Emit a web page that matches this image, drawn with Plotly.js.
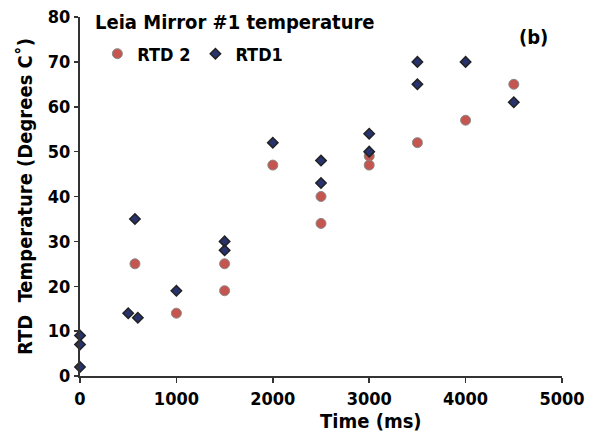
<!DOCTYPE html>
<html><head><meta charset="utf-8">
<script src="https://cdn.plot.ly/plotly-3.0.1.min.js"></script>
<style>body{margin:0;background:#fff}#c{width:597px;height:441px}</style>
</head><body><div id="c"></div>
<script>
const rtd2_x = [570, 1000, 1500, 1500, 2000, 2500, 2500, 3000, 3000, 3500, 4000, 4500];
const rtd2_y = [25, 14, 25, 19, 47, 40, 34, 49, 47, 52, 57, 65];
const rtd1_x = [0, 0, 0, 500, 570, 600, 1000, 1500, 1500, 2000, 2500, 2500, 3000, 3000, 3500, 3500, 4000, 4500];
const rtd1_y = [9, 7, 2, 14, 35, 13, 19, 30, 28, 52, 48, 43, 54, 50, 70, 65, 70, 61];
const xTicks = [0, 1000, 2000, 3000, 4000, 5000];
const yTicks = [0, 10, 20, 30, 40, 50, 60, 70, 80];
const F = "DejaVu Sans Condensed, Liberation Sans Narrow, sans-serif";

const traces = [
  {x: rtd2_x, y: rtd2_y, type: 'scatter', mode: 'markers', name: 'RTD 2', cliponaxis: false,
   marker: {symbol: 'circle', size: 10, color: '#c4554f', line: {color: '#8a8a8a', width: 1}}},
  {x: rtd1_x, y: rtd1_y, type: 'scatter', mode: 'markers', name: 'RTD1', cliponaxis: false,
   marker: {symbol: 'diamond', size: 8, color: '#28336e', line: {color: '#222', width: 1.5}}}
];
const layout = {
  width: 597, height: 441,
  margin: {l: 80, r: 35, t: 17, b: 65},
  paper_bgcolor: '#fff', plot_bgcolor: '#fff',
  font: {family: F, color: '#000', size: 18, weight: 'bold'},
  showlegend: true,
  legend: {orientation: 'h', x: 0.036, y: 0.897, xanchor: 'left', yanchor: 'middle',
           font: {family: F, size: 18, weight: 'bold'}, bgcolor: 'rgba(0,0,0,0)',
           itemwidth: 30, tracegroupgap: 0},
  xaxis: {range: [0, 5000], tickvals: xTicks, ticks: 'outside', ticklen: 5, tickwidth: 1.5,
          tickcolor: '#333', showline: true, linecolor: '#333', linewidth: 2, showgrid: false,
          zeroline: false, tickfont: {family: F, size: 18, weight: 'bold'}},
  yaxis: {range: [0, 80], tickvals: yTicks, ticks: 'outside', ticklen: 4, tickwidth: 1.5,
          tickcolor: '#333', showline: true, linecolor: '#333', linewidth: 2, showgrid: false,
          zeroline: false, tickfont: {family: F, size: 18, weight: 'bold'},
          title: {text: 'RTD  Temperature (Degrees C˚)', font: {family: F, size: 20, weight: 'bold'}, standoff: 10}},
  annotations: [
    {text: 'Leia Mirror #1 temperature', xref: 'paper', yref: 'paper', x: 0.028, y: 0.986,
     xanchor: 'left', yanchor: 'middle', showarrow: false, font: {family: F, size: 20, weight: 'bold'}},
    {text: '(b)', xref: 'paper', yref: 'paper', x: 0.975, y: 0.944, xanchor: 'right', yanchor: 'middle',
     showarrow: false, font: {family: F, size: 20, weight: 'bold'}},
    {text: 'Time (ms)', xref: 'paper', yref: 'paper', x: 0.603, y: -0.125, xanchor: 'center', yanchor: 'middle',
     showarrow: false, font: {family: F, size: 20, weight: 'bold'}}
  ]
};
Plotly.newPlot('c', traces, layout, {displayModeBar: false, staticPlot: true});
</script></body></html>
